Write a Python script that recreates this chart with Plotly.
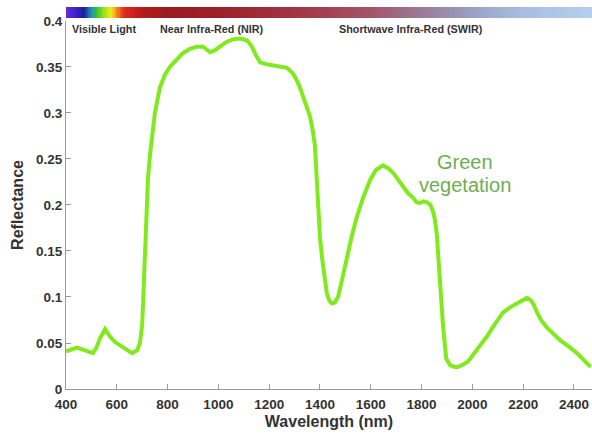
import plotly.graph_objects as go
import numpy as np

# ---- data ----
wavelength_nm = [400, 420, 443, 475, 506, 520, 534, 554, 573, 593, 624, 660, 680, 691,
                 700, 705, 710, 716, 723, 731, 739, 750, 770, 790, 809, 835, 860, 890,
                 915, 940, 955, 967, 985, 1006, 1030, 1057, 1085, 1112, 1130, 1144, 1164,
                 1190, 1215, 1245, 1270, 1290, 1302, 1318, 1333, 1350, 1361, 1372, 1380,
                 1386, 1392, 1400, 1408, 1417, 1427, 1437, 1447, 1458, 1471, 1488, 1506,
                 1525, 1545, 1570, 1597, 1620, 1648, 1668, 1688, 1707, 1727, 1746, 1766,
                 1780, 1793, 1808, 1821, 1835, 1845, 1853, 1860, 1866, 1872, 1878, 1884,
                 1890, 1897, 1912, 1930, 1943, 1960, 1983, 2020, 2057, 2090, 2120, 2150,
                 2175, 2200, 2215, 2228, 2239, 2255, 2270, 2293, 2320, 2345, 2380, 2412,
                 2440, 2465]
reflectance = [0.041, 0.043, 0.045, 0.042, 0.039, 0.045, 0.055, 0.065, 0.057, 0.051, 0.046,
               0.039, 0.042, 0.050, 0.070, 0.100, 0.140, 0.190, 0.230, 0.255, 0.271, 0.300,
               0.328, 0.342, 0.350, 0.358, 0.365, 0.370, 0.372, 0.372, 0.369, 0.366, 0.368,
               0.372, 0.377, 0.380, 0.381, 0.379, 0.373, 0.365, 0.355, 0.353, 0.352, 0.351,
               0.349, 0.344, 0.339, 0.330, 0.317, 0.303, 0.296, 0.280, 0.265, 0.235, 0.198,
               0.165, 0.143, 0.120, 0.104, 0.096, 0.093, 0.094, 0.100, 0.120, 0.143, 0.166,
               0.187, 0.208, 0.227, 0.238, 0.243, 0.240, 0.235, 0.228, 0.220, 0.213, 0.208,
               0.203, 0.202, 0.204, 0.203, 0.200, 0.193, 0.183, 0.168, 0.148, 0.122, 0.095,
               0.070, 0.046, 0.033, 0.026, 0.024, 0.024, 0.026, 0.030, 0.043, 0.057, 0.071,
               0.083, 0.089, 0.093, 0.097, 0.099, 0.097, 0.093, 0.083, 0.075, 0.067, 0.060,
               0.053, 0.046, 0.039, 0.031, 0.024]

x_ticks = [400, 600, 800, 1000, 1200, 1400, 1600, 1800, 2000, 2200, 2400]
y_ticks = [0, 0.05, 0.1, 0.15, 0.2, 0.25, 0.3, 0.35, 0.4]

band_labels = ["Visible Light", "Near Infra-Red (NIR)", "Shortwave Infra-Red (SWIR)"]
band_label_x = [414, 761, 1468]

# spectrum strip colours (wavelength -> colour)
spectrum_wl = [400, 440, 470, 500, 520, 550, 578, 600, 630, 700, 800, 1000, 1300, 1600,
               1800, 2000, 2200, 2475]
spectrum_col = ["#6a2ad8", "#3a22c8", "#1c1c96", "#2090c0", "#38c030", "#9ee020",
                "#f4ec10", "#f08a20", "#e02a20", "#b41c1c", "#9c1a22", "#9c2028",
                "#a23444", "#a45468", "#9a7a98", "#9aa0c4", "#a8bde0", "#b4d0ee"]

X_MAX = 2471

fig = go.Figure()

# spectrum strip
strip_x = np.arange(400, 2476, 5)
lo, hi = spectrum_wl[0], spectrum_wl[-1]
cscale = [[(w - lo) / (hi - lo), c] for w, c in zip(spectrum_wl, spectrum_col)]
fig.add_trace(go.Heatmap(x=strip_x, y=[0], z=[strip_x], colorscale=cscale,
                         zmin=lo, zmax=hi, showscale=False, hoverinfo="skip",
                         xaxis="x", yaxis="y2"))

fig.add_trace(go.Scatter(x=wavelength_nm, y=reflectance, mode="lines",
                         line=dict(color="#80ea1e", width=4), showlegend=False))

tick_font = dict(family="Liberation Sans, Arial, sans-serif", size=13.5, color="#333333",
                 weight="bold")
title_font = dict(family="Liberation Sans, Arial, sans-serif", size=16, color="#333333",
                  weight="bold")

fig.update_layout(
    width=592, height=434,
    margin=dict(l=66, r=0, t=7, b=45),
    paper_bgcolor="white", plot_bgcolor="white",
    showlegend=False,
    xaxis=dict(range=[400, X_MAX], tickvals=x_ticks, ticks="inside", ticklen=5,
               tickcolor="#999999", showline=True, linecolor="#999999", linewidth=1,
               showgrid=False, zeroline=False, tickfont=tick_font, automargin=False,
               ticklabelstandoff=3,
               title=dict(text="Wavelength (nm)", font=title_font, standoff=4),
               anchor="y"),
    yaxis=dict(range=[0, 0.4], domain=[0, 0.9634], tickvals=y_ticks, ticks="inside",
               ticklen=5, tickcolor="#999999", showline=True, linecolor="#999999",
               linewidth=1, showgrid=False, zeroline=False, tickfont=tick_font,
               automargin=False,
               title=dict(text="Reflectance", font=title_font, standoff=8)),
    yaxis2=dict(domain=[0.971, 1.0], anchor="x", visible=False, range=[-0.5, 0.5],
                fixedrange=True),
)

for txt, xv in zip(band_labels, band_label_x):
    fig.add_annotation(x=xv, y=0.391, xref="x", yref="y", text=txt, showarrow=False,
                       xanchor="left", yanchor="middle",
                       font=dict(family="Liberation Sans, Arial, sans-serif", size=10.8,
                                 color="#333333", weight="bold"))

veg_font = dict(family="Liberation Sans, Arial, sans-serif", size=20, color="#6fae50")
fig.add_annotation(x=1971, y=0.247, xref="x", yref="y", text="Green", showarrow=False,
                   xanchor="center", yanchor="middle", font=veg_font)
fig.add_annotation(x=1971, y=0.222, xref="x", yref="y", text="vegetation", showarrow=False,
                   xanchor="center", yanchor="middle", font=veg_font)

fig.write_html("out.html", config={"displayModeBar": False},
               post_script="document.body.style.margin='0px';")
